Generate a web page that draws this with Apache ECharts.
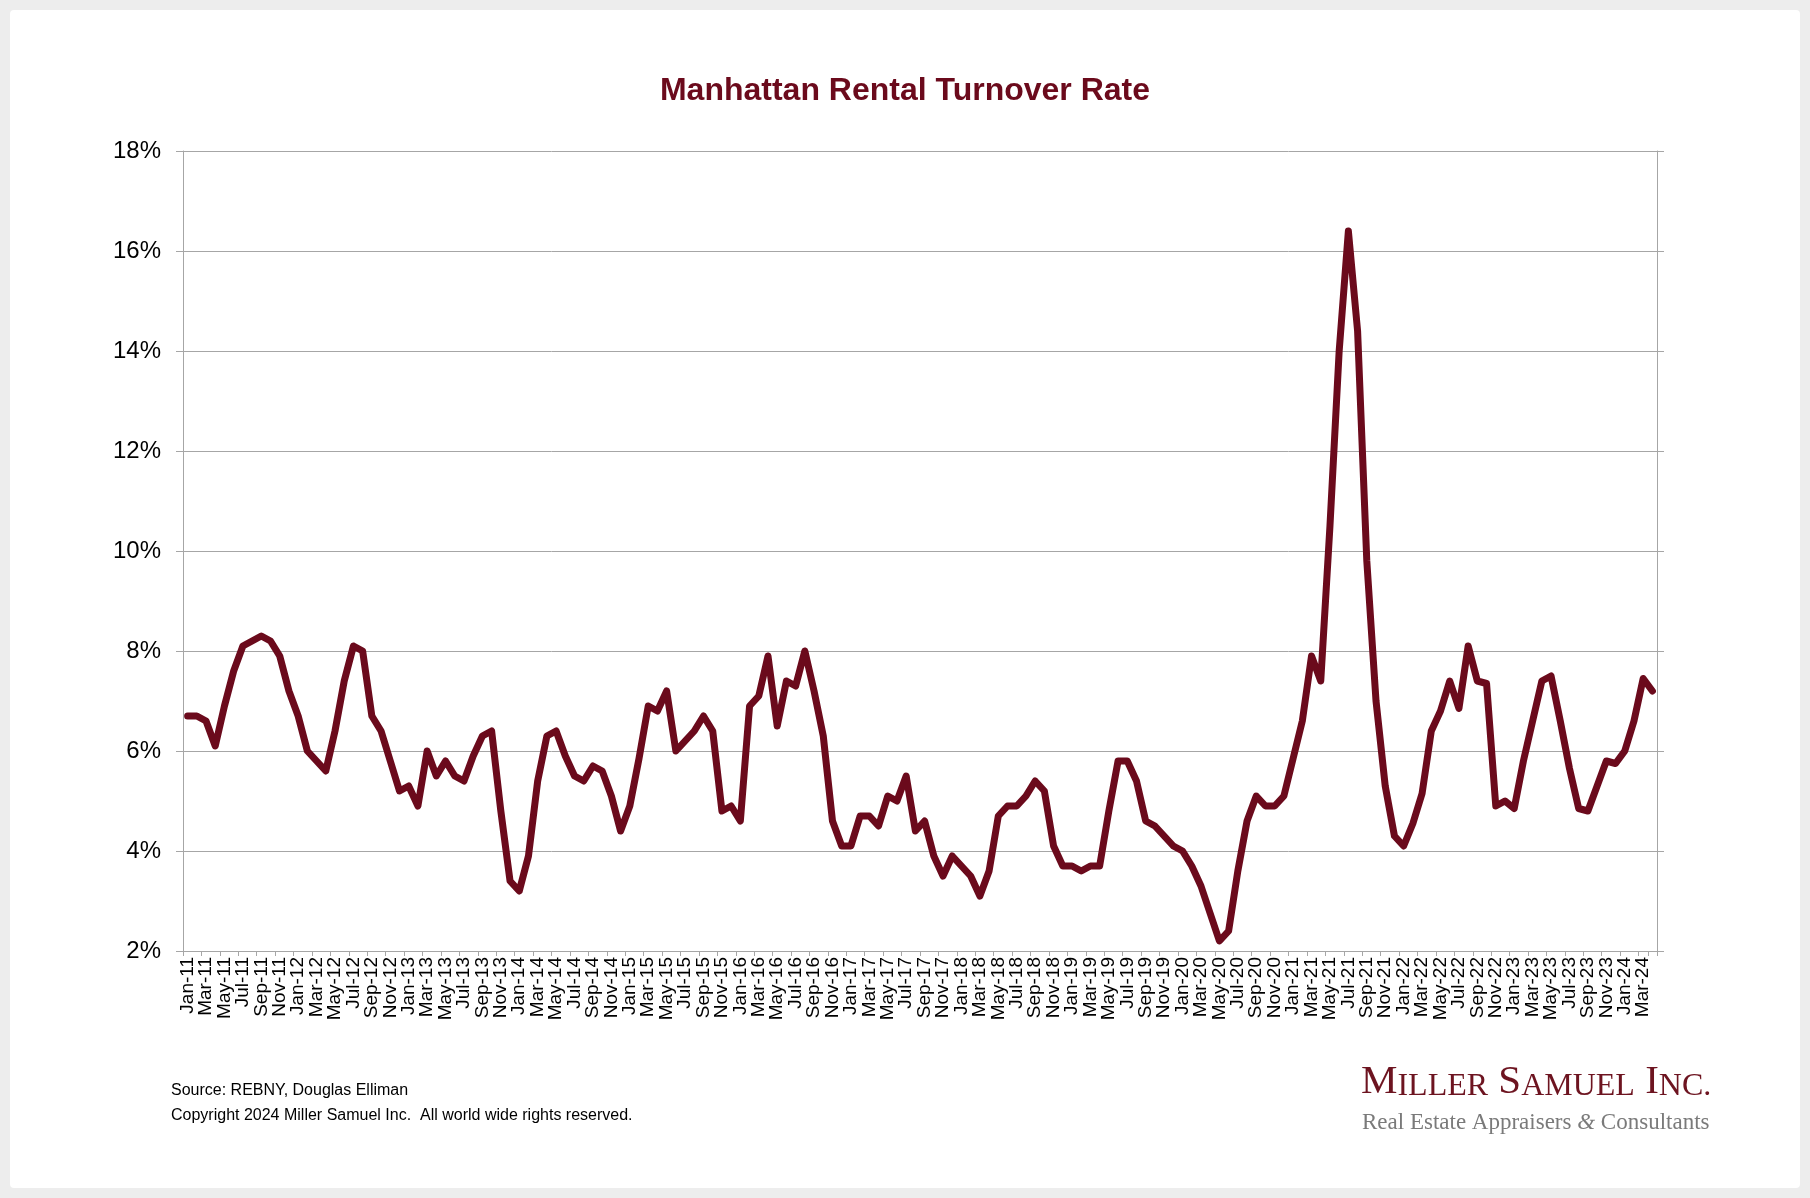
<!DOCTYPE html>
<html>
<head>
<meta charset="utf-8">
<script src="https://cdn.jsdelivr.net/npm/echarts@6/dist/echarts.min.js"></script>
<style>
html,body{margin:0;padding:0;width:1810px;height:1198px;background:#ededed;overflow:hidden;}
#frame{position:absolute;left:10px;top:10px;width:1790px;height:1178px;background:#fff;border-radius:4px;}
#chart{position:absolute;left:0;top:0;width:1810px;height:1198px;}
</style>
</head>
<body>
<div id="frame"></div>
<div id="chart"></div>
<script>
const monthNames = ['Jan','Feb','Mar','Apr','May','Jun','Jul','Aug','Sep','Oct','Nov','Dec'];
const years = ['11','12','13','14','15','16','17','18','19','20','21','22','23','24'];
const lastMonthCount = 4; // data through Apr-24

const turnover2011 = [6.7, 6.7, 6.6, 6.1, 6.9, 7.6, 8.1, 8.2, 8.3, 8.2, 7.9, 7.2];
const turnover2012 = [6.7, 6.0, 5.8, 5.6, 6.4, 7.4, 8.1, 8.0, 6.7, 6.4, 5.8, 5.2];
const turnover2013 = [5.3, 4.9, 6.0, 5.5, 5.8, 5.5, 5.4, 5.9, 6.3, 6.4, 4.8, 3.4];
const turnover2014 = [3.2, 3.9, 5.4, 6.3, 6.4, 5.9, 5.5, 5.4, 5.7, 5.6, 5.1, 4.4];
const turnover2015 = [4.9, 5.85, 6.9, 6.8, 7.2, 6.0, 6.2, 6.4, 6.7, 6.4, 4.8, 4.9];
const turnover2016 = [4.6, 6.9, 7.1, 7.9, 6.5, 7.4, 7.3, 8.0, 7.2, 6.3, 4.6, 4.1];
const turnover2017 = [4.1, 4.7, 4.7, 4.5, 5.1, 5.0, 5.5, 4.4, 4.6, 3.9, 3.5, 3.9];
const turnover2018 = [3.7, 3.5, 3.1, 3.6, 4.7, 4.9, 4.9, 5.1, 5.4, 5.2, 4.1, 3.7];
const turnover2019 = [3.7, 3.6, 3.7, 3.7, 4.8, 5.8, 5.8, 5.4, 4.6, 4.5, 4.3, 4.1];
const turnover2020 = [4.0, 3.7, 3.3, 2.75, 2.2, 2.4, 3.6, 4.6, 5.1, 4.9, 4.9, 5.1];
const turnover2021 = [5.85, 6.6, 7.9, 7.4, 10.5, 14.0, 16.4, 14.4, 9.8, 7.0, 5.3, 4.3];
const turnover2022 = [4.1, 4.55, 5.15, 6.4, 6.8, 7.4, 6.85, 8.1, 7.4, 7.35, 4.9, 5.0];
const turnover2023 = [4.85, 5.8, 6.6, 7.4, 7.5, 6.6, 5.65, 4.85, 4.8, 5.3, 5.8, 5.75];
const turnover2024 = [6.0, 6.6, 7.45, 7.2];

const yTicks = [2, 4, 6, 8, 10, 12, 14, 16, 18];

const values = [].concat(turnover2011, turnover2012, turnover2013, turnover2014, turnover2015,
  turnover2016, turnover2017, turnover2018, turnover2019, turnover2020, turnover2021,
  turnover2022, turnover2023, turnover2024);

const categories = [];
years.forEach((y, yi) => {
  const n = (yi === years.length - 1) ? lastMonthCount : 12;
  for (let m = 0; m < n; m++) categories.push(monthNames[m] + '-' + y);
});

const MAROON = '#6b0a1c';
const GRID = '#a6a6a6';
const FONT = '"Liberation Sans", Arial, sans-serif';
const SERIF = '"Liberation Serif", "Times New Roman", serif';

const chart = echarts.init(document.getElementById('chart'), null, {renderer: 'canvas'});
chart.setOption({
  backgroundColor: 'transparent',
  animation: false,
  title: {
    text: 'Manhattan Rental Turnover Rate',
    left: 'center',
    top: 70,
    textStyle: {color: MAROON, fontFamily: FONT, fontWeight: 'bold', fontSize: 32}
  },
  grid: {left: 183, right: 153, top: 151, bottom: 247, containLabel: false},
  xAxis: {
    type: 'category',
    data: categories,
    boundaryGap: true,
    axisLine: {show: true, lineStyle: {color: GRID, width: 1}},
    axisTick: {show: true, interval: 1, length: 5, lineStyle: {color: GRID}},
    axisLabel: {
      interval: 0, rotate: 90, margin: 6,
      showMinLabel: true, showMaxLabel: true, hideOverlap: false,
      formatter: function (value, index) { return index % 2 === 0 ? value : ''; },
      fontFamily: FONT, fontSize: 19, color: '#000'
    },
    splitLine: {show: false}
  },
  yAxis: [{
    type: 'value',
    min: yTicks[0], max: yTicks[yTicks.length - 1], interval: 2,
    axisLine: {show: true, lineStyle: {color: GRID, width: 1}},
    axisTick: {show: true, length: 7, lineStyle: {color: GRID}},
    axisLabel: {formatter: '{value}%', fontFamily: FONT, fontSize: 24, color: '#000', margin: 22},
    splitLine: {show: true, lineStyle: {color: GRID, width: 1}}
  }, {
    type: 'value', position: 'right',
    min: yTicks[0], max: yTicks[yTicks.length - 1], interval: 2,
    axisLine: {show: true, lineStyle: {color: GRID, width: 1}},
    axisTick: {show: true, length: 7, lineStyle: {color: GRID}},
    axisLabel: {show: false},
    splitLine: {show: false}
  }],
  series: [{
    type: 'line',
    data: values,
    yAxisIndex: 0,
    symbol: 'none',
    smooth: false,
    lineStyle: {color: MAROON, width: 7, cap: 'round', join: 'round'}
  }],
  graphic: [
    {type: 'text', left: 171, top: 1083, style: {text: 'Source: REBNY, Douglas Elliman', font: '16px ' + FONT, fill: '#000'}},
    {type: 'text', left: 171, top: 1108, style: {text: 'Copyright 2024 Miller Samuel Inc.  All world wide rights reserved.', font: '16px ' + FONT, fill: '#000'}},
    {type: 'text', left: 1361, top: 1062, style: {
      text: '{c|M}{s|ILLER} {c|S}{s|AMUEL} {c|I}{s|NC.}',
      rich: {
        c: {fontFamily: SERIF, fontSize: 41, fill: '#6d1420', verticalAlign: 'bottom'},
        s: {fontFamily: SERIF, fontSize: 32, fill: '#6d1420', verticalAlign: 'bottom'}
      },
      fill: '#6d1420', font: '41px ' + SERIF
    }},
    {type: 'text', left: 1362, top: 1111, style: {
      text: 'Real Estate Appraisers {i|&} Consultants',
      rich: {i: {fontFamily: SERIF, fontStyle: 'italic', fontSize: 23, fill: '#7a7a7a'}},
      font: '23px ' + SERIF, fill: '#7a7a7a'
    }}
  ]
});
</script>
</body>
</html>
